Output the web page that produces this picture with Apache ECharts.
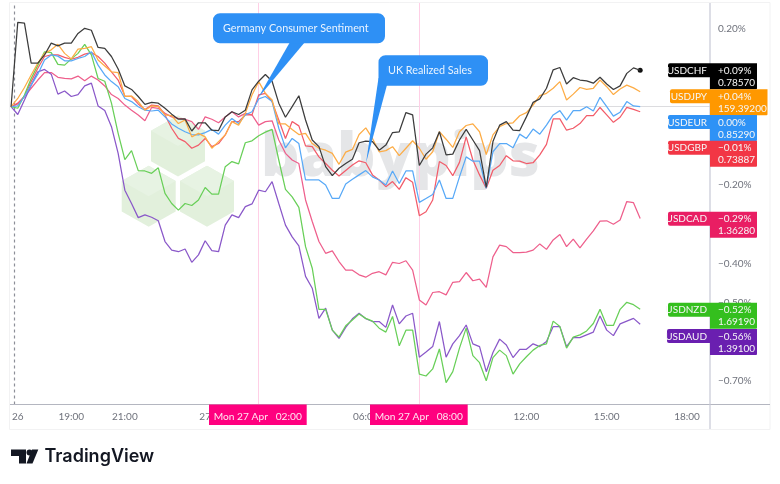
<!DOCTYPE html>
<html>
<head>
<meta charset="utf-8">
<style>html,body{margin:0;padding:0;background:#fff}#chart{width:780px;height:484px}</style>
<script src="https://cdn.jsdelivr.net/npm/echarts@6/dist/echarts.min.js"></script>
</head>
<body>
<div id="chart"></div>
<script>
// Percent change of USD pairs, one reading every 15 minutes from 26 Apr 16:45
const usdchf = [0,.215,.213,.111,.111,.132,.162,.155,.162,.162,.187,.200,.195,.151,.149,.128,.096,.053,.044,.026,.006,.011,.009,-.004,-.019,-.032,-.031,-.062,-.041,-.041,-.060,-.061,-.026,-.013,-.020,-.009,.043,
  .065,.082,.065,.009,-.027,0,.028,-.034,-.085,-.102,-.153,-.176,-.157,-.145,-.134,-.092,-.088,-.089,-.111,-.098,-.066,-.064,-.015,-.021,-.150,-.121,-.105,-.064,-.123,-.121,-.085,-.058,-.085,-.112,-.206,-.089,
  -.047,-.038,-.060,-.061,-.026,.011,.020,.047,.094,.100,.058,.074,.068,.066,.060,.075,.058,.044,.053,.085,.099,.093];
const usdjpy = [0,.021,.049,.081,.111,.136,.145,.159,.136,.122,.147,.149,.153,.119,.104,.089,.087,.026,.027,.013,-.009,.002,0,-.021,-.023,-.043,-.034,-.077,-.068,-.077,-.106,-.089,-.072,-.038,-.047,-.017,.030,
  .064,.034,.017,-.044,-.044,-.058,-.071,-.068,-.094,-.106,-.111,-.119,-.147,-.116,-.109,-.071,-.054,-.081,-.115,-.112,-.102,-.125,-.106,-.087,-.106,-.134,-.115,-.064,-.083,-.104,-.064,-.048,-.044,-.064,-.122,-.072,
  -.051,-.043,-.041,-.023,-.015,.004,.028,.034,.047,.064,.017,.032,.049,.044,.047,.068,.051,.031,.045,.055,.048,.038];
const usdeur = [0,.002,.026,.055,.083,.119,.132,.129,.117,.117,.123,.128,.140,.106,.081,.064,.051,.021,.013,0,-.009,-.011,-.009,-.026,-.044,-.055,-.064,-.071,-.072,-.066,-.058,-.070,-.047,-.030,-.043,-.021,-.013,
  .020,.026,.013,-.055,-.105,-.081,-.094,-.187,-.187,-.187,-.200,-.234,-.234,-.197,-.185,-.174,-.163,-.179,-.187,-.200,-.164,-.196,-.164,-.164,-.244,-.234,-.224,-.187,-.234,-.234,-.179,-.128,-.139,-.139,-.208,-.115,
  -.094,-.094,-.105,-.070,-.081,-.057,-.070,-.047,-.021,-.010,-.034,-.010,-.010,0,-.011,.024,0,-.024,-.014,.013,.002,0];
const usdgbp = [0,.007,.026,.064,.098,.128,.132,.132,.126,.121,.126,.134,.138,.128,.111,.089,.068,.027,.026,.007,-.007,.004,.002,-.021,-.055,-.081,-.089,-.106,-.098,-.081,-.102,-.094,-.072,-.038,-.038,-.021,-.021,
  .030,.034,.013,-.034,-.081,-.038,-.049,-.100,-.102,-.128,-.145,-.162,-.177,-.163,-.149,-.138,-.143,-.174,-.187,-.204,-.191,-.211,-.181,-.193,-.278,-.268,-.238,-.140,-.150,-.176,-.142,-.077,-.136,-.174,-.208,-.162,
  -.150,-.125,-.138,-.139,-.145,-.143,-.123,-.096,-.031,-.031,-.060,-.055,-.043,-.023,-.023,-.002,-.021,-.040,-.027,-.002,-.007,-.013];
const usdcad = [0,.009,.026,.047,.068,.087,.087,.075,.072,.071,.078,.066,.078,.068,.053,.031,.021,.004,-.009,-.021,-.036,-.002,-.004,-.017,-.026,-.030,-.032,-.038,-.058,-.026,-.032,-.041,-.026,-.013,-.026,-.017,-.021,
  -.047,-.038,-.036,-.085,-.119,-.136,-.145,-.238,-.293,-.344,-.374,-.368,-.395,-.417,-.417,-.429,-.435,-.425,-.421,-.429,-.397,-.400,-.393,-.417,-.493,-.506,-.474,-.472,-.480,-.448,-.446,-.423,-.444,-.440,-.461,-.383,
  -.353,-.357,-.372,-.372,-.371,-.366,-.350,-.364,-.340,-.326,-.357,-.338,-.360,-.338,-.317,-.292,-.291,-.300,-.289,-.242,-.245,-.285];
const usdnzd = [0,-.004,.030,.072,.106,.140,.138,.108,.106,.122,.136,.159,.132,.072,.065,.009,-.068,-.135,-.112,-.163,-.164,-.170,-.156,-.221,-.247,-.264,-.247,-.252,-.238,-.206,-.223,-.223,-.153,-.140,-.146,-.092,-.087,
  -.074,-.065,-.058,-.136,-.211,-.230,-.257,-.357,-.412,-.517,-.517,-.570,-.588,-.559,-.544,-.529,-.540,-.547,-.565,-.575,-.535,-.610,-.570,-.570,-.682,-.687,-.669,-.618,-.704,-.676,-.616,-.565,-.635,-.653,-.699,-.640,
  -.621,-.635,-.682,-.656,-.638,-.621,-.609,-.605,-.547,-.561,-.616,-.588,-.582,-.572,-.553,-.517,-.558,-.558,-.517,-.499,-.505,-.517];
const usdaud = [0,-.020,.017,.055,.089,.095,.083,.032,.040,.026,.031,.053,.060,.002,-.010,-.051,-.119,-.213,-.247,-.283,-.276,-.282,-.291,-.344,-.366,-.370,-.363,-.397,-.378,-.342,-.367,-.370,-.302,-.276,-.283,-.255,-.248,
  -.213,-.217,-.191,-.247,-.302,-.332,-.355,-.433,-.463,-.540,-.514,-.570,-.591,-.563,-.541,-.527,-.541,-.548,-.548,-.563,-.506,-.554,-.534,-.527,-.639,-.626,-.612,-.548,-.639,-.605,-.584,-.557,-.605,-.612,-.676,-.627,
  -.593,-.608,-.640,-.619,-.619,-.605,-.612,-.599,-.561,-.561,-.612,-.589,-.589,-.582,-.575,-.534,-.570,-.584,-.554,-.547,-.540,-.555];

// Time axis: hours counted from 26 Apr 00:00
const firstBarHour = 16.75;
const barStepHours = 0.25;
const timeTicks = [17, 19, 21, 24, 30, 36, 39, 42];
const timeTickLabels = ['26', '19:00', '21:00', '27', '06:00', '12:00', '15:00', '18:00'];
const percentTicks = [0.2, -0.2, -0.4, -0.5, -0.7];
const eventHours = [26, 32];
const eventTags = ['Mon 27 Apr   02:00', 'Mon 27 Apr   08:00'];

const lineSeries = [
  { name: 'USDCAD', values: usdcad, color: '#ee5f8c' },
  { name: 'USDGBP', values: usdgbp, color: '#f25c6a' },
  { name: 'USDAUD', values: usdaud, color: '#8a58c9' },
  { name: 'USDNZD', values: usdnzd, color: '#68cf58' },
  { name: 'USDEUR', values: usdeur, color: '#58a9f7' },
  { name: 'USDJPY', values: usdjpy, color: '#fdac45' },
  { name: 'USDCHF', values: usdchf, color: '#3c3c3c' }
];

// Price tags at the right edge of the plot
const tags = [
  { name: 'USDCHF', pct: '+0.09%', price: '0.78570', color: '#000000', y: 63.3, left: 668, right: 757 },
  { name: 'USDJPY', pct: '+0.04%', price: '159.39200', color: '#ff9800', y: 89.3, left: 670, right: 767.5 },
  { name: 'USDEUR', pct: '0.00%', price: '0.85290', color: '#2e92f6', y: 115, left: 668, right: 757 },
  { name: 'USDGBP', pct: '\u22120.01%', price: '0.73887', color: '#f23645', y: 140.7, left: 668, right: 757 },
  { name: 'USDCAD', pct: '\u22120.29%', price: '1.36280', color: '#e91e63', y: 211.7, left: 668, right: 757 },
  { name: 'USDNZD', pct: '\u22120.52%', price: '1.69190', color: '#34bf1e', y: 302.7, left: 668, right: 757 },
  { name: 'USDAUD', pct: '\u22120.56%', price: '1.39100', color: '#6a1fb0', y: 329, left: 667, right: 757 }
];

const FONT = 'Lato, "Noto Sans", sans-serif';
const axisX = 710, axisY = 404.5, plotTop = 3, plotLeft = 10;

const graphics = [];
function hex(cx, cy, fill) {
  const w = 27, h = 30.5, q = 15.2;
  graphics.push({ type: 'polygon', z: -5, silent: true,
    shape: { points: [[cx, cy - h], [cx + w, cy - q], [cx + w, cy + q], [cx, cy + h], [cx - w, cy + q], [cx - w, cy - q]] },
    style: { fill } });
  graphics.push({ type: 'polygon', z: -4, silent: true,
    shape: { points: [[cx - w, cy - q], [cx, cy - h], [cx + w, cy - q], [cx, cy]] },
    style: { fill: '#e7f3e3' } });
}
hex(178, 146, '#e2f0dc');
hex(148.7, 196.3, '#e2f0dc');
hex(207, 196.3, '#e2f0dc');
graphics.push({ type: 'text', z: -3, silent: true, x: 261, y: 129,
  style: { text: 'babypips', fill: '#e5e6e8', font: '800 60px "Open Sans", sans-serif' } });

// Frame, price scale and time scale rules
graphics.push({ type: 'rect', z: 0, silent: true, shape: { x: 9.5, y: 2.5, width: 760.5, height: 427 },
  style: { fill: 'none', stroke: '#f2f2f3', lineWidth: 1 } });
graphics.push({ type: 'line', z: 20, silent: true, shape: { x1: plotLeft, y1: axisY, x2: 770, y2: axisY },
  style: { stroke: '#b4b6c0', lineWidth: 1 } });
graphics.push({ type: 'line', z: 20, silent: true, shape: { x1: axisX, y1: plotTop, x2: axisX, y2: 429 },
  style: { stroke: '#c6c8d6', lineWidth: 1.2 } });

// News callouts
function callout(x, y, w, h, tail, text, textX) {
  graphics.push({ type: 'polygon', z: 30, silent: true, shape: { points: tail }, style: { fill: '#2e90f5' } });
  graphics.push({ type: 'rect', z: 31, silent: true, shape: { x, y, width: w, height: h, r: 7 }, style: { fill: '#2e90f5' } });
  graphics.push({ type: 'text', z: 32, silent: true, x: textX, y: y + h / 2,
    style: { text, fill: '#eaf4ff', font: '10.8px ' + FONT, verticalAlign: 'middle', textAlign: 'left' } });
}
callout(213, 13.3, 172, 30, [[290, 42], [305, 42], [258, 98]], 'Germany Consumer Sentiment', 223);
callout(378.5, 55.3, 109.5, 30.5, [[378.5, 78], [387, 85], [366, 163]], 'UK Realized Sales', 388);

// Event tags on the time scale
eventHours.forEach((h, i) => {
  const x0 = i === 0 ? 209 : 370;
  graphics.push({ type: 'rect', z: 40, silent: true, shape: { x: x0, y: 404.5, width: 97.7, height: 20.5 }, style: { fill: '#ff007f' } });
  graphics.push({ type: 'text', z: 41, silent: true, x: x0 + 48.8, y: 416.7,
    style: { text: eventTags[i], fill: '#ffe6f2', font: '10.2px ' + FONT, textAlign: 'center', verticalAlign: 'middle' } });
});

// Symbol and value tags
tags.forEach(t => {
  graphics.push({ type: 'rect', z: 50, silent: true, shape: { x: t.left, y: t.y, width: axisX - t.left, height: 14, r: [2, 0, 0, 2] }, style: { fill: t.color } });
  graphics.push({ type: 'rect', z: 50, silent: true, shape: { x: axisX, y: t.y, width: t.right - axisX, height: 26, r: [0, 0, 1, 0] }, style: { fill: t.color } });
  graphics.push({ type: 'text', z: 51, silent: true, x: axisX - 3, y: t.y + 7.3,
    style: { text: t.name, fill: '#f6f6f6', font: '10px ' + FONT, textAlign: 'right', verticalAlign: 'middle' } });
  graphics.push({ type: 'text', z: 51, silent: true, x: 718, y: t.y + 7.3,
    style: { text: t.pct, fill: '#f6f6f6', font: '10px ' + FONT, verticalAlign: 'middle' } });
  graphics.push({ type: 'text', z: 51, silent: true, x: 718, y: t.y + 19.3,
    style: { text: t.price, fill: '#f6f6f6', font: '10px ' + FONT, verticalAlign: 'middle' } });
});

// TradingView wordmark
graphics.push({ type: 'polygon', z: 60, silent: true, shape: { points: [[11, 449.5], [26, 449.5], [26, 463.5], [19, 463.5], [19, 456], [11, 456]] }, style: { fill: '#131722' } });
graphics.push({ type: 'circle', z: 60, silent: true, shape: { cx: 29.5, cy: 452.6, r: 3 }, style: { fill: '#131722' } });
graphics.push({ type: 'polygon', z: 60, silent: true, shape: { points: [[32, 449.5], [38.3, 449.5], [32.5, 463.5], [26.5, 463.5]] }, style: { fill: '#131722' } });
graphics.push({ type: 'text', z: 60, silent: true, x: 44.5, y: 457,
  style: { text: 'TradingView', fill: '#131722', font: '600 18px Inter, sans-serif', verticalAlign: 'middle' } });

const chart = echarts.init(document.getElementById('chart'), null, { renderer: 'canvas' });

const series = lineSeries.map((s, idx) => ({
  name: s.name,
  type: 'line',
  symbol: 'none',
  z: 5 + idx,
  silent: true,
  animation: false,
  lineStyle: { color: s.color, width: 1.25 },
  data: s.values.map((v, i) => [firstBarHour + i * barStepHours, v])
}));

// Baseline, session break and event rules sit under the price lines
series[0].markLine = {
  silent: true, symbol: 'none', animation: false, z: 1, label: { show: false },
  data: [
    { yAxis: 0, lineStyle: { color: '#dcdcdf', width: 1.2, type: 'solid' } },
    { xAxis: 16.86, lineStyle: { color: '#8d8f98', width: 1.2, type: [3, 3] } },
    ...eventHours.map(h => ({ xAxis: h, lineStyle: { color: '#ffcfe6', width: 1, type: 'solid' } }))
  ]
};

// Closing dot on the leading line
series[series.length - 1].markPoint = {
  silent: true, animation: false, symbol: 'circle', symbolSize: 5,
  itemStyle: { color: '#111' }, label: { show: false },
  data: [{ coord: [firstBarHour + (usdchf.length - 1) * barStepHours, usdchf[usdchf.length - 1]] }]
};

chart.setOption({
  animation: false,
  backgroundColor: '#ffffff',
  grid: { left: plotLeft, right: 780 - axisX, top: plotTop, height: axisY - plotTop, containLabel: false },
  xAxis: {
    type: 'value',
    min: 16.71,
    max: 42.858,
    axisLine: { show: false },
    axisTick: { show: false },
    splitLine: { show: false },
    axisLabel: {
      customValues: timeTicks,
      formatter: v => timeTickLabels[timeTicks.indexOf(v)],
      color: '#6f727c', fontSize: 10, fontFamily: FONT, margin: 7, hideOverlap: false, showMinLabel: true, showMaxLabel: true
    }
  },
  yAxis: {
    type: 'value',
    position: 'right',
    min: -0.7597,
    max: 0.2645,
    axisLine: { show: false },
    axisTick: { show: false },
    splitLine: { show: false },
    axisLabel: {
      customValues: percentTicks,
      inside: false,
      margin: 8,
      formatter: v => (v > 0 ? '' : '\u2212') + Math.abs(v).toFixed(2) + '%',
      color: '#6f727c', fontSize: 10, fontFamily: FONT, align: 'left'
    }
  },
  series,
  graphic: { elements: graphics }
});
</script>
</body>
</html>
